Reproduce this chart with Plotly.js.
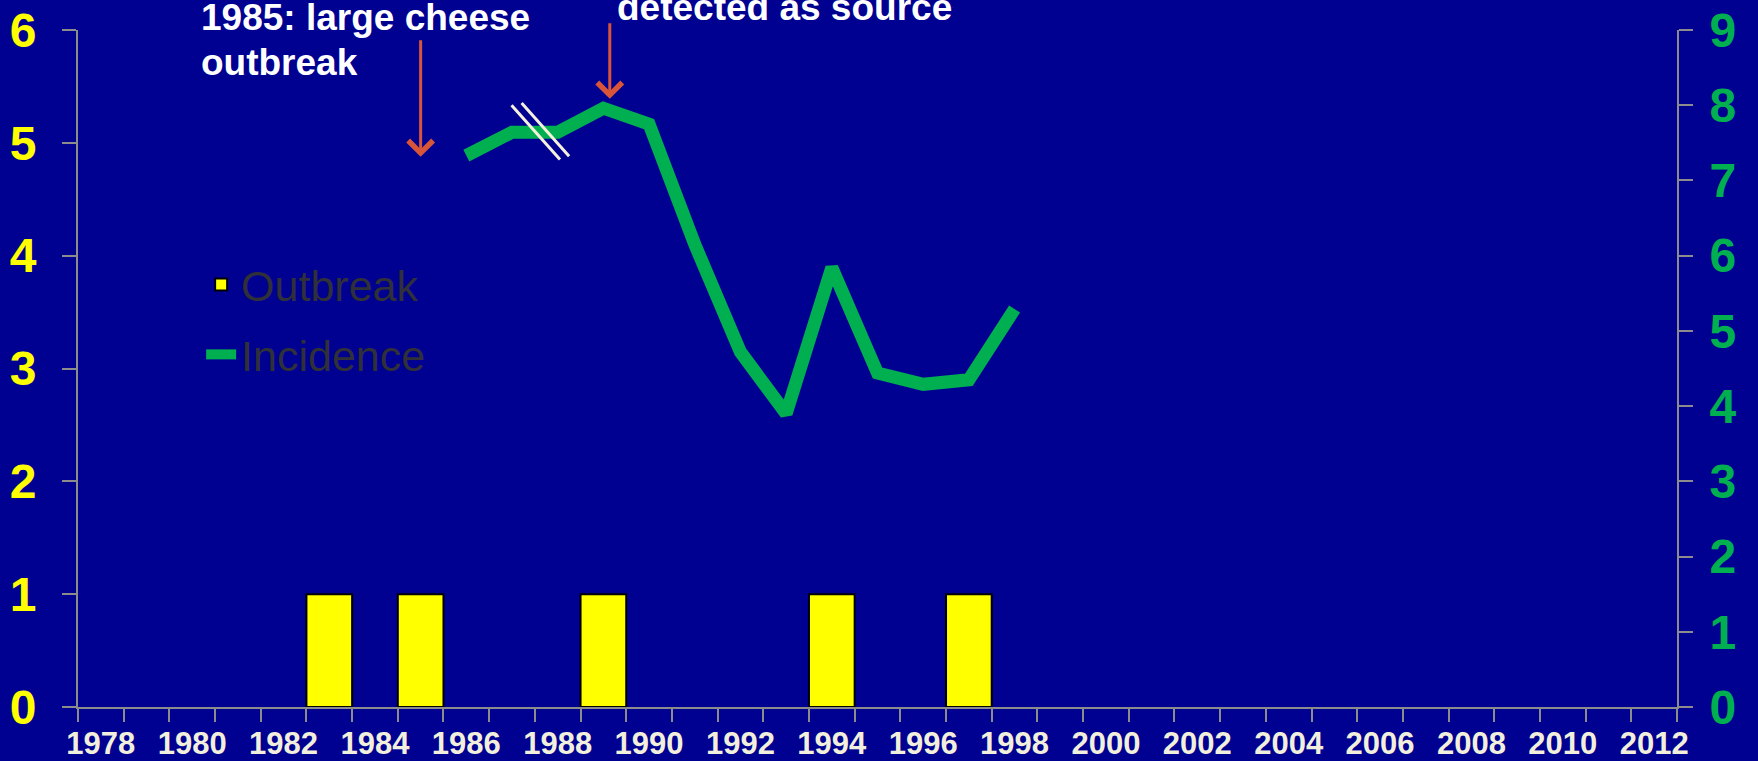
<!DOCTYPE html>
<html>
<head>
<meta charset="utf-8">
<script src="https://cdn.plot.ly/plotly-3.0.1.min.js"></script>
<style>
html,body{margin:0;padding:0;background:#000091;}
#chart{width:1758px;height:761px;}
</style>
</head>
<body>
<div id="chart"></div>
<script>
// ---- data ----
const yearLabels = [1978,1980,1982,1984,1986,1988,1990,1992,1994,1996,1998,2000,2002,2004,2006,2008,2010,2012];
const outbreakYears = [1983, 1985, 1989, 1994, 1997];
const outbreakCounts = [1, 1, 1, 1, 1];
const incidenceYears = [1986,1987,1988,1989,1990,1991,1992,1993,1994,1995,1996,1997,1998];
const incidenceValues = [7.33,7.64,7.64,7.96,7.75,6.15,4.72,3.90,5.84,4.44,4.29,4.35,5.29];

const FONT = 'Liberation Sans, Arial, sans-serif';
const BG = '#000091';
const AXIS = '#8c8c8c';

const traces = [
  {
    type: 'bar', name: 'Outbreak', x: outbreakYears, y: outbreakCounts,
    width: 1, legendgroup: 'a',
    marker: {color: '#FFFF00', line: {color: '#000000', width: 2}},
    yaxis: 'y', hoverinfo: 'skip'
  },
  {
    type: 'scatter', mode: 'lines', name: 'Incidence', x: incidenceYears, y: incidenceValues,
    legendgroup: 'b',
    line: {color: '#00B050', width: 13}, yaxis: 'y2', hoverinfo: 'skip'
  }
];

const layout = {
  width: 1758, height: 761,
  paper_bgcolor: BG, plot_bgcolor: BG,
  margin: {l: 78, r: 81, t: 30, b: 54, pad: 0},
  font: {family: FONT},
  showlegend: true,
  legend: {
    x: 0.077, y: 0.675, xanchor: 'left', yanchor: 'top',
    bgcolor: 'rgba(0,0,0,0)', traceorder: 'grouped', tracegroupgap: 11,
    font: {family: FONT, size: 43, color: '#303038'}
  },
  xaxis: {
    range: [1977.5, 2012.5], showgrid: false, zeroline: false,
    showline: true, linecolor: AXIS, linewidth: 2,
    tickmode: 'array', tickvals: yearLabels, ticktext: yearLabels.map(String),
    ticks: '', ticklabelstandoff: 8,
    minor: {ticks: 'outside', tick0: 1977.5, dtick: 1, ticklen: 13, tickcolor: AXIS, tickwidth: 2, showgrid: false},
    tickfont: {family: FONT, size: 31, color: '#F2EFDC', weight: 'bold'},
    fixedrange: true
  },
  yaxis: {
    range: [0, 6], dtick: 1, tick0: 0, showgrid: false, zeroline: false,
    showline: true, linecolor: AXIS, linewidth: 2,
    ticks: 'outside', ticklen: 14, tickcolor: AXIS, tickwidth: 2,
    ticklabelstandoff: 16,
    tickfont: {family: FONT, size: 48, color: '#FFFF00', weight: 'bold'},
    fixedrange: true
  },
  yaxis2: {
    range: [0, 9], dtick: 1, tick0: 0, overlaying: 'y', side: 'right',
    showgrid: false, zeroline: false,
    showline: true, linecolor: AXIS, linewidth: 2,
    ticks: 'outside', ticklen: 14, tickcolor: AXIS, tickwidth: 2,
    ticklabelstandoff: 7,
    tickfont: {family: FONT, size: 48, color: '#00B050', weight: 'bold'},
    fixedrange: true
  },
  shapes: [
    {type: 'line', xref: 'x', yref: 'y2', x0: 1986.99, y0: 8.00, x1: 1988.05, y1: 7.28,
     line: {color: '#F5F1DC', width: 3}},
    {type: 'line', xref: 'x', yref: 'y2', x0: 1987.21, y0: 8.03, x1: 1988.25, y1: 7.32,
     line: {color: '#F5F1DC', width: 3}}
  ],
  annotations: [
    {text: '1985: large cheese', xref: 'paper', yref: 'paper', x: (199-78)/1599, y: (707.5-17.5)/677.5,
     xanchor: 'left', yanchor: 'middle', showarrow: false,
     font: {family: FONT, size: 37, color: '#FFFFFF', weight: 'bold'}},
    {text: 'outbreak', xref: 'paper', yref: 'paper', x: (199-78)/1599, y: (707.5-62.4)/677.5,
     xanchor: 'left', yanchor: 'middle', showarrow: false,
     font: {family: FONT, size: 37, color: '#FFFFFF', weight: 'bold'}},
    {text: 'detected as source', xref: 'paper', yref: 'paper', x: (615-78)/1599, y: (707.5-7.4)/677.5,
     xanchor: 'left', yanchor: 'middle', showarrow: false,
     font: {family: FONT, size: 37, color: '#FFFFFF', weight: 'bold'}},
    {text: '', xref: 'x', yref: 'y', x: 1985, y: (707.5-157)/112.9, showarrow: true,
     ax: 0, ay: -118,
     arrowhead: 4, arrowsize: 1.6, arrowwidth: 3, arrowcolor: '#D9553A', standoff: 0},
    {text: '', xref: 'x', yref: 'y', x: 1989.14, y: (707.5-99)/112.9, showarrow: true,
     ax: 0, ay: -77,
     arrowhead: 4, arrowsize: 1.6, arrowwidth: 3, arrowcolor: '#D9553A', standoff: 0}
  ]
};

Plotly.newPlot('chart', traces, layout, {staticPlot: true, displayModeBar: false});
</script>
</body>
</html>
